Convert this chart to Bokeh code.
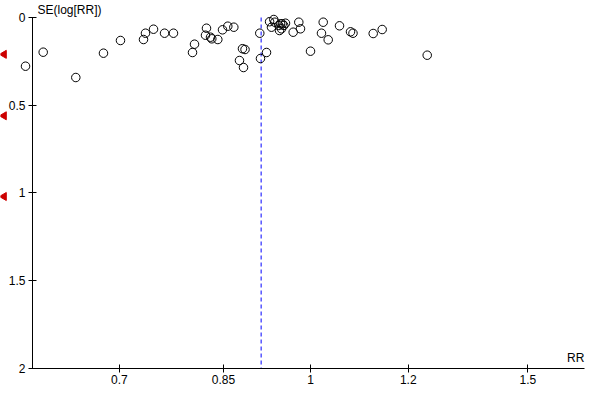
import numpy as np
from bokeh.plotting import figure
from bokeh.models import Range1d, FixedTicker, Label, ColumnDataSource
from bokeh.embed import file_html
from bokeh.resources import INLINE

# ---- data ----
rr = [0.5876, 0.6073, 0.6454, 0.6796, 0.7015, 0.7323, 0.7350, 0.7461, 0.7616, 0.7744,
      0.8024, 0.8054, 0.8236, 0.8221, 0.8298, 0.8318, 0.8412, 0.8486, 0.8570, 0.8667,
      0.8759, 0.8808, 0.8850, 0.8825, 0.9097, 0.9109, 0.9212,
      0.9265, 0.9338, 0.9356, 0.9298, 0.9426, 0.9456, 0.9486, 0.9514, 0.9544, 0.9473,
      0.9438, 0.9682, 0.9784, 0.9815, 1.0240, 1.0207, 1.0336, 1.0556, 1.0000, 1.0775,
      1.0825, 1.1241, 1.1431, 1.2433]
se = [0.2775, 0.1977, 0.3419, 0.2034, 0.1310, 0.1254, 0.0895, 0.0667, 0.0895, 0.0895,
      0.1994, 0.1521, 0.0610, 0.1009, 0.1123, 0.1214, 0.1254, 0.0701, 0.0496, 0.0553,
      0.2450, 0.1778, 0.1823, 0.2849, 0.0895, 0.2336, 0.1994,
      0.0240, 0.0114, 0.0268, 0.0553, 0.0456, 0.0359, 0.0359, 0.0456, 0.0325, 0.0644,
      0.0741, 0.0838, 0.0268, 0.0644, 0.0268, 0.0895, 0.1271, 0.0473, 0.1920, 0.0815,
      0.0895, 0.0912, 0.0684, 0.2148]
pooled_rr = 0.912
marker_se = [0.21, 0.56, 1.02]

x_ticks = [0.7, 0.85, 1, 1.2, 1.5]
x_tick_labels = ["0.7", "0.85", "1", "1.2", "1.5"]
y_ticks = [0, 0.5, 1, 1.5, 2]
y_tick_labels = ["0", "0.5", "1", "1.5", "2"]
x_axis_min, x_axis_max = 0.5953, 1.667
se_max = 2.0

x_lo, x_hi = 0.5608, 1.6924
y_top, y_bottom = -0.0969, 2.1368

FONT = "Liberation Sans"

p = figure(width=592, height=392, x_axis_type="log",
           x_range=Range1d(x_lo, x_hi), y_range=Range1d(y_bottom, y_top),
           output_backend="svg", toolbar_location=None, min_border=0)
p.outline_line_color = None
p.grid.visible = False
p.background_fill_color = "white"

for ax in (p.xaxis[0], p.yaxis[0]):
    ax.axis_line_color = "black"
    ax.major_tick_line_color = "black"
    ax.minor_tick_line_color = None
    ax.major_tick_in = 4
    ax.major_tick_out = 4
    ax.major_label_text_font = FONT
    ax.major_label_text_font_size = "12px"
    ax.major_label_text_color = "black"
    ax.major_label_standoff = 3

p.xaxis.ticker = FixedTicker(ticks=x_ticks)
p.xaxis.major_label_overrides = dict(zip(x_ticks, x_tick_labels))
p.xaxis.bounds = (x_axis_min, x_axis_max)
p.xaxis.fixed_location = se_max

p.yaxis.ticker = FixedTicker(ticks=y_ticks)
p.yaxis.major_label_overrides = dict(zip(y_ticks, y_tick_labels))
p.yaxis.bounds = (0, se_max)
p.yaxis.fixed_location = x_axis_min

# pooled estimate line
p.segment(x0=[pooled_rr], y0=[0], x1=[pooled_rr], y1=[se_max],
          line_color="#0000ff", line_dash="4 3", line_width=1)

# studies
src = ColumnDataSource(dict(rr=rr, se=se))
p.scatter("rr", "se", source=src, marker="circle", size=8.5,
          fill_color=None, line_color="black", line_width=1)

# red markers on the left edge
tri_x = x_lo * 1.0065
p.scatter(x=[tri_x] * len(marker_se), y=marker_se, marker="triangle",
          angle=np.pi / 2, size=8, fill_color="#cc0000", line_color="#cc0000")

p.add_layout(Label(x=x_axis_min, y=0, x_offset=5, y_offset=7.5, text="SE(log[RR])",
                   text_baseline="middle", text_align="left",
                   text_font=FONT, text_font_size="12px", text_color="black"))
p.add_layout(Label(x=x_axis_max, y=se_max, y_offset=3, text="RR",
                   text_baseline="bottom", text_align="right",
                   text_font=FONT, text_font_size="12px", text_color="black"))

open("out.html", "w").write(file_html(p, INLINE))
